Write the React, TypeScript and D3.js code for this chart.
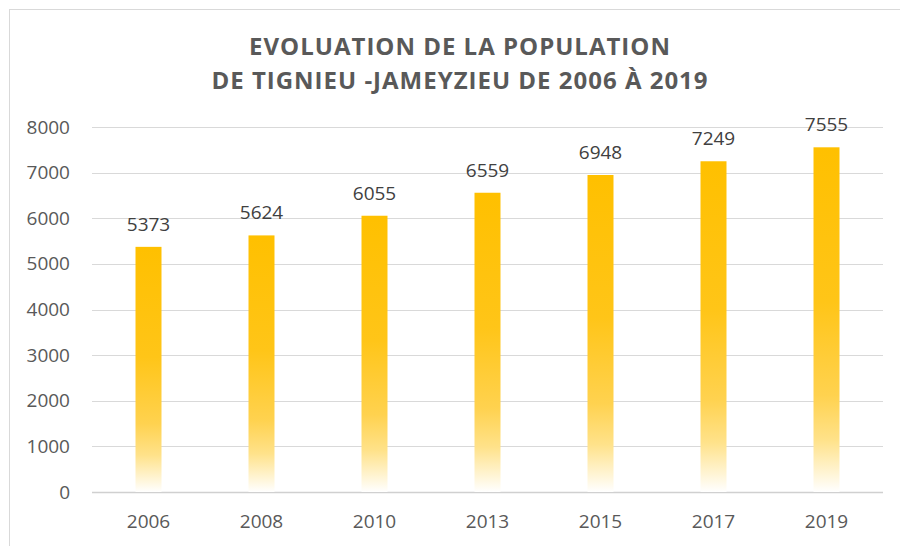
import React, { useEffect, useRef } from 'react';
import * as d3 from 'd3';

const years = ['2006', '2008', '2010', '2013', '2015', '2017', '2019'];
const population = [5373, 5624, 6055, 6559, 6948, 7249, 7555];
const yTicks = [0, 1000, 2000, 3000, 4000, 5000, 6000, 7000, 8000];
const titleLines = ['EVOLUATION DE LA POPULATION', 'DE TIGNIEU -JAMEYZIEU DE 2006 À 2019'];

export default function App() {
  const ref = useRef<SVGSVGElement>(null);

  useEffect(() => {
    const width = 900, height = 546;
    const svg = d3.select(ref.current);
    svg.selectAll('*').remove();

    const font = "'Open Sans', 'Liberation Sans', sans-serif";
    const left = 92, right = 883, top = 127, bottom = 492;

    // chart frame
    svg.append('rect')
      .attr('x', 9.5).attr('y', 9.5)
      .attr('width', width + 20).attr('height', height + 20)
      .attr('fill', '#fff').attr('stroke', '#d9d9d9');

    const defs = svg.append('defs');
    const grad = defs.append('linearGradient')
      .attr('id', 'barFade')
      .attr('x1', 0).attr('y1', 0).attr('x2', 0).attr('y2', 1);
    [
      [0, '#FFC000'],
      [0.45, '#FFC518'],
      [0.72, '#FFD24F'],
      [0.85, '#FFE28A'],
      [1, '#FFFFFF']
    ].forEach(([o, c]) => {
      grad.append('stop').attr('offset', o as number).attr('stop-color', c as string);
    });

    const x = d3.scaleBand().domain(years).range([left, right]).paddingInner(0.77).paddingOuter(0.385);
    const y = d3.scaleLinear().domain([0, 8000]).range([bottom, top]);

    // title
    svg.append('g').selectAll('text')
      .data(titleLines)
      .enter()
      .append('text')
      .attr('x', 460)
      .attr('y', (d, i) => 55 + i * 34)
      .attr('text-anchor', 'middle')
      .attr('font-family', font)
      .attr('font-weight', 'bold')
      .attr('font-size', 24)
      .attr('letter-spacing', 1)
      .attr('fill', '#595959')
      .text(d => d);

    // gridlines
    svg.append('g').selectAll('line')
      .data(yTicks)
      .enter()
      .append('line')
      .attr('x1', left).attr('x2', right)
      .attr('y1', d => Math.round(y(d)) + 0.5).attr('y2', d => Math.round(y(d)) + 0.5)
      .attr('stroke', d => d === 0 ? '#d0d0d0' : '#d9d9d9')
      .attr('stroke-width', d => d === 0 ? 1.5 : 1);

    // y labels
    svg.append('g').selectAll('text')
      .data(yTicks)
      .enter()
      .append('text')
      .attr('x', 70)
      .attr('y', d => y(d) + 6.5)
      .attr('text-anchor', 'end')
      .attr('font-family', font)
      .attr('font-size', 19)
      .attr('fill', '#595959')
      .text(d => d);

    // bars
    svg.append('g').selectAll('rect')
      .data(population)
      .enter()
      .append('rect')
      .attr('x', (d, i) => x(years[i])!)
      .attr('y', d => y(d))
      .attr('width', x.bandwidth())
      .attr('height', d => bottom - y(d))
      .attr('fill', 'url(#barFade)');

    // value labels
    svg.append('g').selectAll('text')
      .data(population)
      .enter()
      .append('text')
      .attr('x', (d, i) => x(years[i])! + x.bandwidth() / 2)
      .attr('y', d => y(d) - 16)
      .attr('text-anchor', 'middle')
      .attr('font-family', font)
      .attr('font-size', 19)
      .attr('fill', '#404040')
      .text(d => d);

    // x labels
    svg.append('g').selectAll('text')
      .data(years)
      .enter()
      .append('text')
      .attr('x', d => x(d)! + x.bandwidth() / 2)
      .attr('y', 528)
      .attr('text-anchor', 'middle')
      .attr('font-family', font)
      .attr('font-size', 19)
      .attr('fill', '#595959')
      .text(d => d);
  }, []);

  return (
    <svg ref={ref} width={900} height={546} style={{ position: 'absolute', left: 0, top: 0, display: 'block' }} />
  );
}
